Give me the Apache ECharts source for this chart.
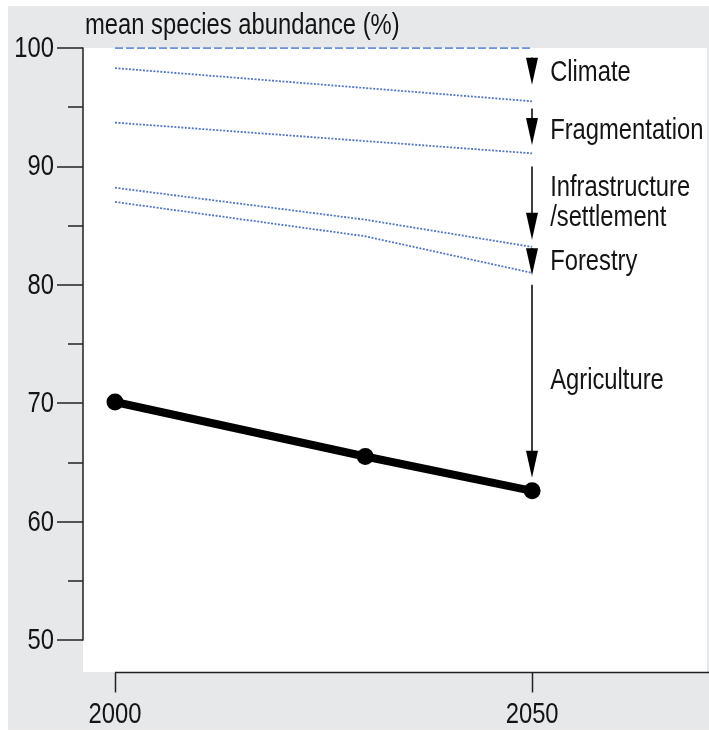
<!DOCTYPE html>
<html>
<head>
<meta charset="utf-8">
<script src="https://cdn.jsdelivr.net/npm/echarts@6/dist/echarts.min.js"></script>
<style>
  html, body { margin: 0; padding: 0; background: #ffffff; overflow: hidden; }
  #chart { width: 709px; height: 731px; }
</style>
</head>
<body>
<div id="chart"></div>
<script>
// Mean species abundance (%), 2000 to 2050, with the losses attributed to each pressure
const years = [2000, 2030, 2050];
const msa = [70.1, 65.5, 62.6];

// Upper bounds left after each pressure is removed (dotted lines)
const pristine = [[2000, 100], [2050, 100]];
const climateBound = [[2000, 98.3], [2050, 95.5]];
const fragmentationBound = [[2000, 93.7], [2050, 91.1]];
const infrastructureBound = [[2000, 88.2], [2030, 85.5], [2050, 83.2]];
const forestryBound = [[2000, 87.0], [2030, 84.1], [2050, 81.0]];

// Arrows at 2050: [year, from, to]
const arrowSpans = [
  [2050, 99.2, 96.9],
  [2050, 94.9, 91.8],
  [2050, 90.0, 83.8],
  [2050, 83.1, 80.8],
  [2050, 80.0, 63.7]
];

// Pressure names next to the arrows: [year, value, text]
const pressureLabels = [
  [2050, 97.9, 'Climate'],
  [2050, 93.0, 'Fragmentation'],
  [2050, 86.9, 'Infrastructure\n/settlement'],
  [2050, 81.9, 'Forestry'],
  [2050, 71.9, 'Agriculture']
];

const yTicks = [50, 60, 70, 80, 90, 100];
const xTicks = [2000, 2050];
const xMax = 2071.2;
const yTitle = 'mean species abundance (%)';

// Narrow sans look: regular sans, squeezed horizontally
const FONT_FAMILY = "'Liberation Sans', Arial, sans-serif";
const FONT = "29px " + FONT_FAMILY;
const SQUEEZE = 0.82;
const TXT = '#141414';
const AXIS_COLOR = '#222';
const PANEL = '#e7e8e9';
const AXIS_OFFSET = 32;

const chart = echarts.init(document.getElementById('chart'), null, { renderer: 'canvas' });

function dottedSeries(data) {
  return {
    type: 'line',
    data: data,
    symbol: 'none',
    silent: true,
    lineStyle: { color: '#5279c0', width: 1.8, type: [2, 1.5] },
    z: 3
  };
}

function squeezedText(x, y, text, align) {
  return {
    type: 'text',
    x: x, y: y,
    scaleX: SQUEEZE,
    style: {
      text: text,
      font: FONT,
      fill: TXT,
      align: align,
      verticalAlign: 'middle',
      lineHeight: 30
    }
  };
}

chart.setOption({
  animation: false,
  backgroundColor: '#ffffff',
  graphic: [
    { type: 'rect', z: -10, silent: true,
      shape: { x: 8, y: 6, width: 701, height: 724 },
      style: { fill: PANEL } },
    { type: 'rect', z: -9, silent: true,
      shape: { x: 83, y: 48, width: 624, height: 624 },
      style: { fill: '#ffffff' } },
    // keep the panel margin below the axis clean at the right edge
    { type: 'rect', z: 100, silent: true,
      shape: { x: 690, y: 674, width: 19, height: 56 },
      style: { fill: PANEL } },
    Object.assign(squeezedText(85, 26, yTitle, 'left'), { z: 10 })
  ],
  grid: { left: 115, right: 0, top: 48, bottom: 91, containLabel: false },
  xAxis: {
    type: 'value',
    min: xTicks[0], max: xMax, interval: xTicks[1] - xTicks[0],
    show: false
  },
  yAxis: {
    type: 'value',
    min: yTicks[0], max: yTicks[yTicks.length - 1], interval: 10,
    offset: AXIS_OFFSET,
    axisLine: { show: true, lineStyle: { color: AXIS_COLOR, width: 1.5 } },
    axisTick: { show: true, length: 26, lineStyle: { color: AXIS_COLOR, width: 1.5 } },
    minorTick: { show: true, splitNumber: 2, length: 15, lineStyle: { color: AXIS_COLOR, width: 1.5 } },
    axisLabel: { show: false },
    splitLine: { show: false }
  },
  series: [
    {
      type: 'line',
      data: pristine,
      symbol: 'none',
      silent: true,
      lineStyle: { color: '#3d72c6', width: 1.5, type: [8, 3] },
      z: 3
    },
    dottedSeries(climateBound),
    dottedSeries(fragmentationBound),
    dottedSeries(infrastructureBound),
    dottedSeries(forestryBound),
    {
      type: 'line',
      data: years.map((y, i) => [y, msa[i]]),
      symbol: 'circle',
      symbolSize: 17,
      itemStyle: { color: '#000' },
      lineStyle: { color: '#000', width: 8 },
      z: 5
    },
    {
      // arrows between successive bounds at 2050
      type: 'custom',
      data: arrowSpans,
      silent: true,
      clip: false,
      z: 6,
      renderItem: function (params, api) {
        const top = api.coord([api.value(0), api.value(1)]);
        const tip = api.coord([api.value(0), api.value(2)]);
        const headH = 27, headW = 12;
        const x = Math.round(tip[0]);
        const children = [];
        if (tip[1] - headH > top[1]) {
          children.push({
            type: 'line',
            shape: { x1: x, y1: top[1], x2: x, y2: tip[1] - headH + 2 },
            style: { stroke: '#000', lineWidth: 1.5 }
          });
        }
        children.push({
          type: 'polygon',
          shape: { points: [[x - headW / 2, tip[1] - headH], [x + headW / 2, tip[1] - headH], [x, tip[1]]] },
          style: { fill: '#000' }
        });
        return { type: 'group', children: children };
      }
    },
    {
      // pressure names
      type: 'custom',
      data: pressureLabels,
      silent: true,
      clip: false,
      z: 6,
      renderItem: function (params, api) {
        const p = api.coord([api.value(0), api.value(1)]);
        return squeezedText(p[0] + 18, p[1], pressureLabels[params.dataIndex][2], 'left');
      }
    },
    {
      // y tick labels, placed left of the offset axis line
      type: 'custom',
      data: yTicks.map(v => [xTicks[0], v]),
      silent: true,
      clip: false,
      z: 6,
      renderItem: function (params, api) {
        const p = api.coord([api.value(0), api.value(1)]);
        return squeezedText(p[0] - AXIS_OFFSET - 29, p[1] + 1, String(yTicks[params.dataIndex]), 'right');
      }
    },
    {
      // x axis line, dropped below the plot, from the first year to the right edge
      type: 'custom',
      data: [[xTicks[0], yTicks[0]]],
      silent: true,
      clip: false,
      z: 6,
      renderItem: function (params, api) {
        const a = api.coord([api.value(0), api.value(1)]);
        const b = api.coord([xMax, api.value(1)]);
        const y = Math.round(a[1] + AXIS_OFFSET) + 0.5;
        return { type: 'line', shape: { x1: a[0], y1: y, x2: b[0], y2: y },
                 style: { stroke: AXIS_COLOR, lineWidth: 1.5 } };
      }
    },
    {
      // x ticks and their labels
      type: 'custom',
      data: xTicks.map(v => [v, yTicks[0]]),
      silent: true,
      clip: false,
      z: 6,
      renderItem: function (params, api) {
        const p = api.coord([api.value(0), api.value(1)]);
        const axisY = Math.round(p[1] + AXIS_OFFSET) + 0.5;
        const x = Math.round(p[0]) + 0.5;
        return {
          type: 'group',
          children: [
            { type: 'line', shape: { x1: x, y1: axisY, x2: x, y2: axisY + 20 },
              style: { stroke: AXIS_COLOR, lineWidth: 1.5 } },
            squeezedText(p[0], axisY + 42, String(xTicks[params.dataIndex]), 'center')
          ]
        };
      }
    }
  ]
});
</script>
</body>
</html>
